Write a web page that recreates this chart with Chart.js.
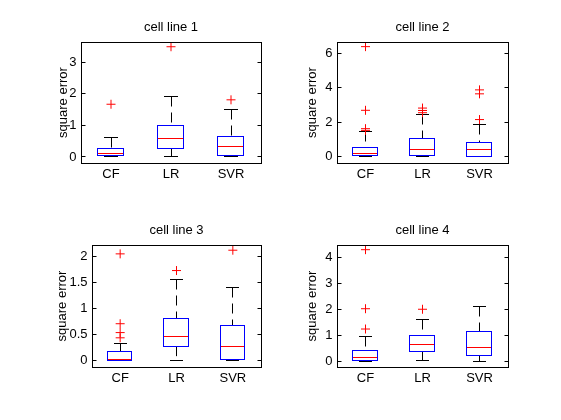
<!DOCTYPE html>
<html><head><meta charset="utf-8">
<script src="https://cdn.jsdelivr.net/npm/chart.js@4.4.0/dist/chart.umd.min.js"></script>
<style>
html,body{margin:0;padding:0;background:#fff;}
#wrap{position:relative;width:561px;height:420px;overflow:hidden;background:#fff;}
.cell{position:absolute;width:280px;height:210px;}
canvas{display:block;}
</style></head><body>
<div id="wrap">
 <div class="cell" style="left:0px;top:0px"><canvas id="c0" width="280" height="210"></canvas></div>
 <div class="cell" style="left:280px;top:0px"><canvas id="c1" width="280" height="210"></canvas></div>
 <div class="cell" style="left:0px;top:210px"><canvas id="c2" width="280" height="210"></canvas></div>
 <div class="cell" style="left:280px;top:210px"><canvas id="c3" width="280" height="210"></canvas></div>
</div>
<script>
// ---------- data ----------
const categories = ['CF', 'LR', 'SVR'];
const panelTitles = ['cell line 1', 'cell line 2', 'cell line 3', 'cell line 4'];
const yAxisLabel = 'square error';

// one row per cell line, values for [CF, LR, SVR]
const lowerWhisker = [[0, 0.02, 0], [0, 0, 0], [0, 0, 0], [0, 0.04, 0]];
const q1 = [[0.045, 0.28, 0.045], [0.04, 0.08, 0], [0.013, 0.28, 0.03], [0.04, 0.38, 0.22]];
const median = [[0.11, 0.6, 0.33], [0.2, 0.43, 0.43], [0.027, 0.47, 0.28], [0.155, 0.65, 0.53]];
const q3 = [[0.27, 1.0, 0.65], [0.55, 1.04, 0.82], [0.18, 0.81, 0.67], [0.41, 1.0, 1.16]];
const upperWhisker = [[0.62, 1.9, 1.49], [1.43, 2.42, 1.84], [0.33, 1.56, 1.41], [0.94, 1.62, 2.12]];
const outliersCF = [[1.67], [1.52, 1.62, 2.69, 6.4], [0.44, 0.54, 0.71, 2.05], [1.24, 2.02, 4.29]];
const outliersLR = [[3.49], [2.55, 2.68, 2.82], [1.73], [2.0]];
const outliersSVR = [[1.81], [2.15, 3.65, 3.88], [2.12], []];

const yMin = [-0.19, -0.38, -0.12, -0.22];
const yMax = [3.64, 6.67, 2.22, 4.47];
const yTicks = [[0, 1, 2, 3], [0, 2, 4, 6], [0, 0.5, 1, 1.5, 2], [0, 1, 2, 3, 4]];

// ---------- layout (page pixels) ----------
const frames = [
  {ox: 0,   oy: 0,   L: 81,  T: 42,  R: 261, B: 163, titleY: 27.3,  ylabelX: 63},
  {ox: 280, oy: 0,   L: 337, T: 42,  R: 508, B: 163, titleY: 27.3,  ylabelX: 312},
  {ox: 0,   oy: 210, L: 92,  T: 245, R: 261, B: 367, titleY: 230.5, ylabelX: 62},
  {ox: 280, oy: 210, L: 337, T: 245, R: 508, B: 367, titleY: 230.5, ylabelX: 312}
];
const CW = 280, CH = 210;
const FONT = {family: "'Liberation Sans', Arial, Helvetica, sans-serif", size: 13, weight: 'normal', lineHeight: 1};
const BOX_FRAC = 0.45, CAP_FRAC = 0.225, TICK_LEN = 4;

const crisp = v => Math.floor(v) + 0.5;

const boxParts = {
  id: 'boxParts',
  beforeDatasetsDraw(chart, args, opts) {
    const k = opts.panel;
    const xs = chart.scales.x, ys = chart.scales.y, ctx = chart.ctx;
    const catW = xs.width / categories.length;
    const capHalf = catW * CAP_FRAC / 2;
    ctx.save();
    ctx.lineWidth = 1;
    ctx.strokeStyle = '#000';
    categories.forEach((c, i) => {
      const cx = xs.getPixelForValue(i);
      const px = crisp(cx);
      const yHi = crisp(ys.getPixelForValue(upperWhisker[k][i]));
      const yQ3 = ys.getPixelForValue(q3[k][i]);
      const yQ1 = ys.getPixelForValue(q1[k][i]);
      const yLo = crisp(ys.getPixelForValue(lowerWhisker[k][i]));
      ctx.setLineDash([10, 6]);
      ctx.beginPath(); ctx.moveTo(px, yHi); ctx.lineTo(px, yQ3); ctx.stroke();
      ctx.beginPath(); ctx.moveTo(px, yQ1); ctx.lineTo(px, yLo); ctx.stroke();
      ctx.setLineDash([]);
      ctx.beginPath();
      ctx.moveTo(Math.round(cx - capHalf), yHi); ctx.lineTo(Math.round(cx + capHalf), yHi);
      ctx.moveTo(Math.round(cx - capHalf), yLo); ctx.lineTo(Math.round(cx + capHalf), yLo);
      ctx.stroke();
    });
    ctx.restore();
  },
  afterDatasetsDraw(chart, args, opts) {
    const k = opts.panel;
    const xs = chart.scales.x, ys = chart.scales.y, ctx = chart.ctx;
    const a = chart.chartArea;
    ctx.save();
    ctx.lineWidth = 1;
    // boxes: outline of the library's bar elements, pixel-snapped
    const bars = chart.getDatasetMeta(0).data;
    bars.forEach((bar, i) => {
      const p = bar.getProps(['x', 'y', 'base', 'width'], true);
      const x0 = crisp(p.x - p.width / 2), x1 = crisp(p.x + p.width / 2 - 1);
      const y0 = crisp(Math.min(p.y, p.base)), y1 = crisp(Math.max(p.y, p.base));
      ctx.strokeStyle = '#0000ff';
      ctx.strokeRect(x0, y0, x1 - x0, y1 - y0);
      const ym = crisp(ys.getPixelForValue(median[k][i]));
      ctx.strokeStyle = '#ff0000';
      ctx.beginPath();
      ctx.moveTo(x0 + 0.5, ym); ctx.lineTo(x1 - 0.5, ym);
      ctx.stroke();
    });
    // axes frame
    ctx.strokeStyle = '#000';
    const l = crisp(a.left), r = crisp(a.right), t = crisp(a.top), b = crisp(a.bottom);
    ctx.strokeRect(l, t, r - l, b - t);
    // inward ticks on left and right
    ctx.beginPath();
    yTicks[k].forEach(v => {
      const y = crisp(ys.getPixelForValue(v));
      ctx.moveTo(l, y); ctx.lineTo(l + TICK_LEN, y);
      ctx.moveTo(r - TICK_LEN, y); ctx.lineTo(r, y);
    });
    ctx.stroke();
    ctx.restore();
  }
};

frames.forEach((f, k) => {
  const outlierPoints = [];
  [outliersCF, outliersLR, outliersSVR].forEach((arr, i) => {
    arr[k].forEach(v => outlierPoints.push({x: categories[i], y: v}));
  });
  const titleCenter = f.titleY - f.oy;
  const topLocal = f.T - f.oy;
  new Chart(document.getElementById('c' + k), {
    type: 'bar',
    data: {
      labels: categories,
      datasets: [
        {
          type: 'bar',
          data: categories.map((c, i) => [q1[k][i], q3[k][i]]),
          backgroundColor: 'rgba(0,0,0,0)',
          borderColor: 'rgba(0,0,0,0)',
          borderWidth: 0,
          borderSkipped: false,
          barPercentage: BOX_FRAC,
          categoryPercentage: 1
        },
        {
          type: 'scatter',
          data: outlierPoints,
          pointStyle: 'cross',
          pointRadius: 4.5,
          pointHoverRadius: 4.5,
          borderColor: '#ff0000',
          backgroundColor: '#ff0000',
          borderWidth: 1
        }
      ]
    },
    options: {
      responsive: false,
      animation: false,
      events: [],
      layout: {padding: {left: 0, right: CW - (f.R - f.ox), top: 0, bottom: 0}},
      plugins: {
        legend: {display: false},
        tooltip: {enabled: false},
        title: {
          display: true, fullSize: false, text: panelTitles[k], color: '#000', font: FONT,
          padding: {top: titleCenter - FONT.size / 2, bottom: topLocal - (titleCenter + FONT.size / 2)}
        },
        boxParts: {panel: k}
      },
      scales: {
        x: {
          type: 'category', offset: true,
          grid: {display: false, drawTicks: false},
          border: {display: false},
          ticks: {color: '#000', font: FONT, padding: 4.5, maxRotation: 0, autoSkip: false},
          afterFit(s) { s.height = CH - (f.B - f.oy); }
        },
        y: {
          type: 'linear', min: yMin[k], max: yMax[k],
          grid: {display: false, drawTicks: false},
          border: {display: false},
          ticks: {color: '#000', font: FONT, padding: 4.5, callback: v => String(v)},
          afterBuildTicks(s) { s.ticks = yTicks[k].map(v => ({value: v})); },
          title: {
            display: true, text: yAxisLabel, color: '#000', font: FONT,
            padding: {top: (f.ylabelX - f.ox) - FONT.size / 2, bottom: 0}
          },
          afterFit(s) { s.width = f.L - f.ox; }
        }
      }
    },
    plugins: [boxParts]
  });
});
</script>
</body></html>
